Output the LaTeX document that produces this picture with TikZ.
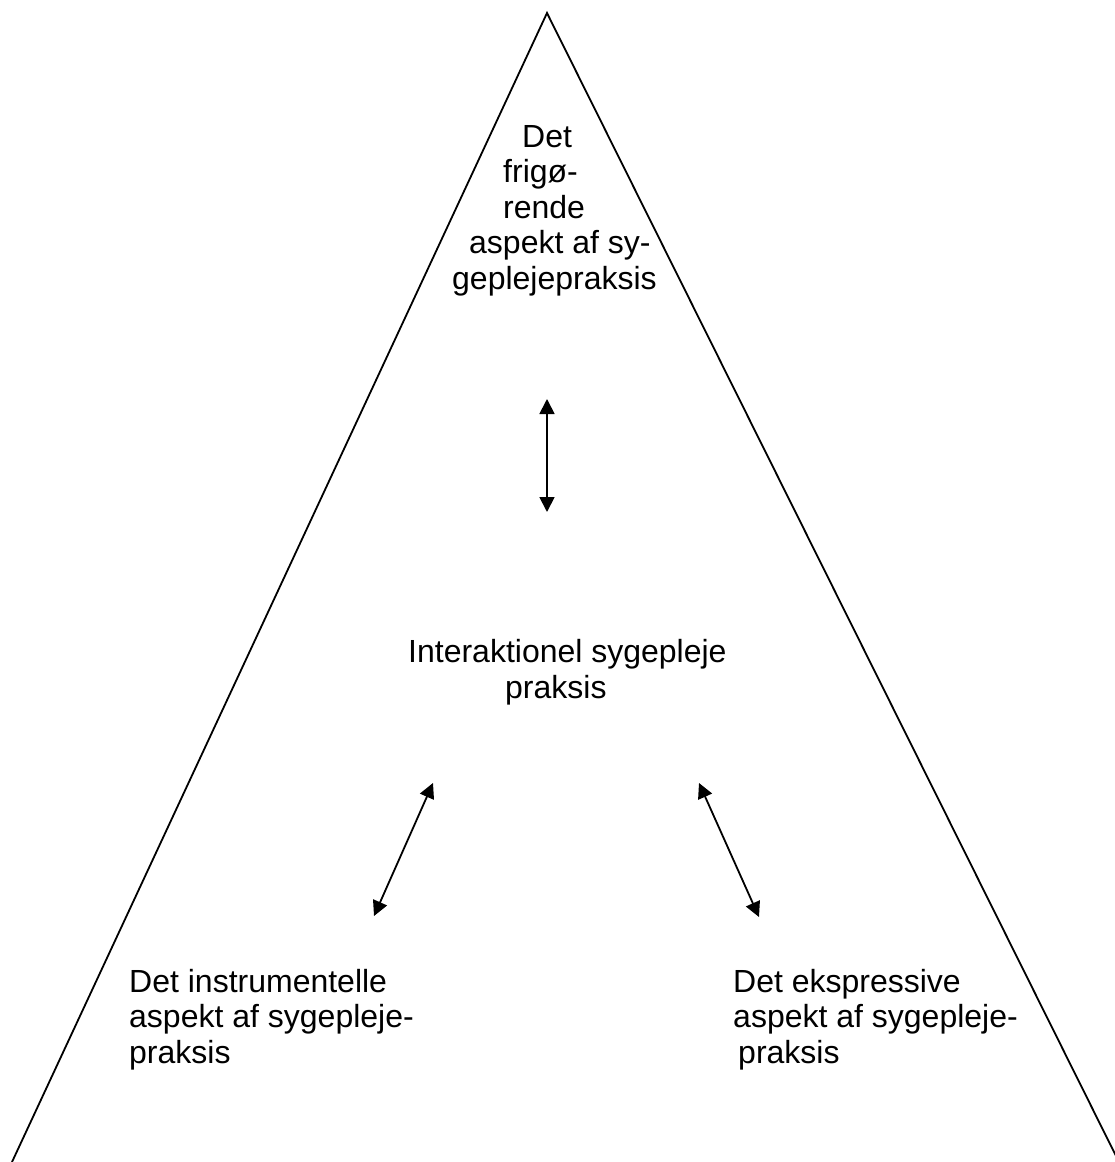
\documentclass[tikz,border=0pt]{standalone}
\usepackage{fontspec}
\setmainfont{Liberation Sans}
\usetikzlibrary{arrows.meta}
\begin{document}
\begin{tikzpicture}[x=1pt,y=-1pt,
    txt/.style={inner sep=0pt, align=left, anchor=base west,
      font=\fontsize{32}{35.5}\selectfont},
    arr/.style={{Triangle[length=15pt,width=15pt]}-{Triangle[length=15pt,width=15pt]},
      line width=1.8pt}]
  \useasboundingbox (0,0) rectangle (1114,1162);

  % Pyramid
  \draw[line width=1.8pt] (12,1162) -- (547,13) -- (1119,1162);

  % Texts (base = last line)
  \node[txt] (frigoer) at (452,289)
    {\hspace*{70pt}Det\\ \hspace*{51pt}frigø-\\ \hspace*{51pt}rende\\
     \hspace*{17pt}aspekt af sy-\\ geplejepraksis};
  \node[txt] (inter) at (408,698) {Interaktionel sygepleje\\ \hspace*{97pt}praksis};
  \node[txt] (instr) at (129,1063) {Det instrumentelle\\ aspekt af sygepleje-\\ praksis};
  \node[txt] (ekspr) at (733,1063) {Det ekspressive\\ aspekt af sygepleje-\\ \hspace*{5pt}praksis};

  % Arrow ends
  \coordinate (topA) at (547,399);
  \coordinate (topB) at (547,512);
  \coordinate (leftA) at (433,783);
  \coordinate (leftB) at (374,916);
  \coordinate (rightA) at (699,783);
  \coordinate (rightB) at (759,917);

  % Arrows
  \draw[arr] (topA) -- (topB);
  \draw[arr] (leftA) -- (leftB);
  \draw[arr] (rightA) -- (rightB);
\end{tikzpicture}
\end{document}
